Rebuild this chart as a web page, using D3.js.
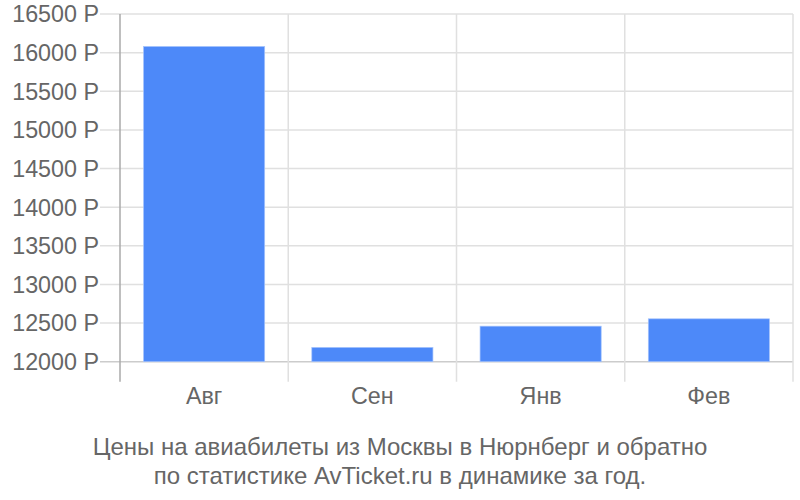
<!DOCTYPE html>
<html lang="ru">
<head>
<meta charset="UTF-8">
<title>Цены на авиабилеты</title>
<script src="https://cdn.jsdelivr.net/npm/d3@7"></script>
<style>
  body { margin: 0; background: #fff; }
  text { font-family: "Liberation Sans", Arial, sans-serif; fill: #666; }
</style>
</head>
<body>
<svg width="800" height="500"></svg>
<script>
    const months = ["Авг", "Сен", "Янв", "Фев"]
    const prices = [16080, 12185, 12460, 12555]
    const yTicks = [12000, 12500, 13000, 13500, 14000, 14500, 15000, 15500, 16000, 16500]
    const titleLines = ["Цены на авиабилеты из Москвы в Нюрнберг и обратно",
                        "по статистике AvTicket.ru в динамике за год."]

    const plotLeft = 120, plotRight = 793, plotTop = 14, plotBase = 361.7, plotBottom = 381.7
    const fs = 23.3

    const svg = d3.select("svg")

    const x = d3.scaleBand()
        .domain(months)
        .range([plotLeft, plotRight])
        .paddingInner(0.28)
        .paddingOuter(0.14)
    const y = d3.scaleLinear()
        .domain([12000, 16500])
        .range([plotBase, plotTop])

    // horizontal grid
    svg.append("g").selectAll("line")
        .data(yTicks)
        .enter().append("line")
        .attr("x1", plotLeft - 20).attr("x2", plotRight)
        .attr("y1", d => y(d)).attr("y2", d => y(d))
        .attr("stroke", d => d === 12000 ? "#ccc" : "#e0e0e0")
        .attr("stroke-width", 1.5)

    // vertical grid at band edges
    const edges = months.map(m => x(m) - x.step() * x.paddingInner() / 2).concat([plotRight])
    svg.append("g").selectAll("line")
        .data(edges.slice(1))
        .enter().append("line")
        .attr("x1", d => d).attr("x2", d => d)
        .attr("y1", plotTop).attr("y2", plotBottom)
        .attr("stroke", "#e0e0e0")
        .attr("stroke-width", 1.5)

    // bars
    svg.append("g").selectAll("rect")
        .data(prices)
        .enter().append("rect")
        .attr("x", (d, i) => x(months[i]))
        .attr("width", x.bandwidth())
        .attr("y", d => y(d))
        .attr("height", d => y(12000) - y(d))
        .attr("fill", "#4d89f9")
        .attr("stroke", "#a6c4fc")
        .attr("stroke-width", 0.7)

    // y axis line
    svg.append("line")
        .attr("x1", plotLeft).attr("x2", plotLeft)
        .attr("y1", plotTop).attr("y2", plotBottom)
        .attr("stroke", "#aaa")
        .attr("stroke-width", 1.5)

    // y labels
    svg.append("g").selectAll("text")
        .data(yTicks)
        .enter().append("text")
        .attr("x", 99)
        .attr("y", d => y(d))
        .attr("dy", "0.36em")
        .attr("text-anchor", "end")
        .attr("font-size", fs)
        .text(d => d + " Р")

    // x labels
    svg.append("g").selectAll("text")
        .data(months)
        .enter().append("text")
        .attr("x", d => x(d) + x.bandwidth() / 2)
        .attr("y", 404)
        .attr("text-anchor", "middle")
        .attr("font-size", fs)
        .text(d => d)

    // caption
    svg.append("g").selectAll("text")
        .data(titleLines)
        .enter().append("text")
        .attr("x", 400)
        .attr("y", (d, i) => 455 + i * 29)
        .attr("text-anchor", "middle")
        .attr("font-size", 24)
        .text(d => d)
</script>
</body>
</html>
